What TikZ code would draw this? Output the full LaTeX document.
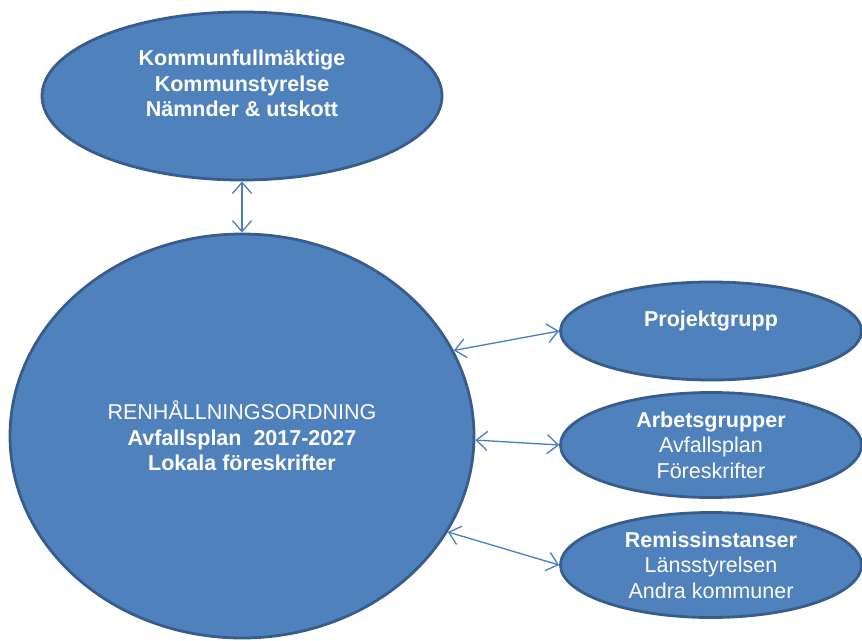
\documentclass[tikz,border=0pt]{standalone}
\usepackage{fontspec}
\setmainfont{Liberation Sans}
\usetikzlibrary{shapes,arrows.meta}
\usepackage{xcolor}
\definecolor{bubblefill}{HTML}{4F81BD}
\definecolor{bubbleline}{HTML}{385D8A}
\definecolor{linkcol}{HTML}{4A7EBB}

\begin{document}
\begin{tikzpicture}[x=1pt,y=-1pt,
    bubble/.style={ellipse, draw=bubbleline, line width=2.8pt, fill=bubblefill,
        text=white, align=center, inner sep=0pt,
        font=\fontsize{21.5}{25.5}\selectfont},
    link/.style={draw=linkcol, line width=1.3pt,
        {Straight Barb[length=11pt,width=19pt]}-{Straight Barb[length=11pt,width=19pt]}}]
            \useasboundingbox (0,0) rectangle (862,640);
            \def\sideX{711}
            \def\sideW{301}
            \def\sideH{105}

            \node[bubble, minimum width=400, minimum height=168] (council) at (242,96)
                {\textbf{Kommunfullmäktige}\\ \textbf{Kommunstyrelse}\\ \textbf{Nämnder \& utskott}\\ \mbox{}};
            \node[bubble, minimum width=464, minimum height=404] (plan) at (242,436)
                {RENHÅLLNINGSORDNING\\ \textbf{Avfallsplan\ \ 2017-2027}\\ \textbf{Lokala föreskrifter}};

            \node[bubble, minimum width=\sideW, minimum height=98] (proj) at (\sideX,331)
                {\textbf{Projektgrupp}\\ \mbox{}};
            \node[bubble, inner ysep=-6pt, minimum width=\sideW, minimum height=\sideH] (work) at (\sideX,445)
                {\textbf{Arbetsgrupper}\\ Avfallsplan\\ Föreskrifter};
            \node[bubble, inner ysep=-6pt, minimum width=\sideW, minimum height=\sideH] (remiss) at (\sideX,565)
                {\textbf{Remissinstanser}\\ Länsstyrelsen\\ Andra kommuner};

            % connections
            \draw[link] (council.south) -- (plan.north);
            \draw[link] (plan.22) -- (proj.west);
            \draw[link] (plan.-1) -- (work.west);
            \draw[link] (plan.-25) -- (remiss.west);
        \end{tikzpicture}
\end{document}
